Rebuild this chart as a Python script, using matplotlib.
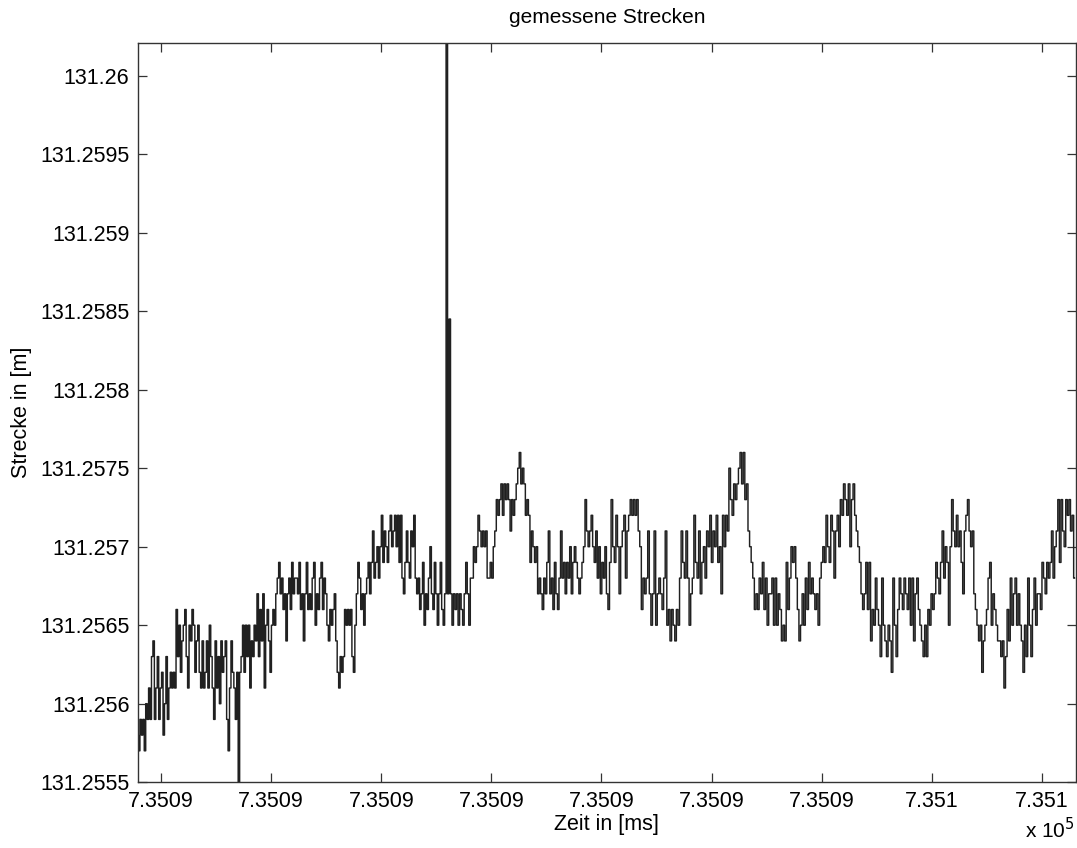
import numpy as np
import matplotlib
matplotlib.use('Agg')
from matplotlib import pyplot, ticker

BASE = 131.2555
STEP = 0.0001
seg1 = [3, 2, 4, 3, 4, 2, 5, 4, 6, 4, 8, 9, 4, 6, 8, 4, 6, 7, 3, 5, 8, 4, 6,
        7, 6, 7, 6, 11, 8, 10, 7, 9, 10, 11, 8, 6, 10, 9, 11, 10, 7, 9, 10,
        7, 6, 9, 6, 7, 9, 6, 10, 8, 6, 4, 9, 6, 8, 5, 9, 7, 8, 9, 4, 2, 6,
        9, 7, 6, 4, 7, -3, 7, 8, 10, 7, 10, 8, 10, 6, 9, 8, 10, 9, 12, 8,
        11, 9, 12, 6, 10, 11, 9, 7, 10, 11, 10, 12, 13, 14, 12, 13, 11, 12,
        9, 12, 13, 11, 14, 12, 13]
seg2 = [13, 12, 14, 11, 12, 9, 12, 14, 11, 12, 11, 13, 14, 10, 12, 11, 13,
        14, 11, 13, 12, 10, 9, 11, 10, 11, 12, 9, 7, 6, 8, 7, 8, 11, 10, 11,
        10, 11, 8, 7, 10, 12, 14, 13, 11, 12, 10, 12, 13, 14, 12, 14, 16,
        13, 14, 15, 13, 15, 17, 14, 16, 15, 14, 16, 17, 15, 16, 17, 15, 17,
        14, 17, 13, 12, 14, 16, 14, 13, 16, 15, 17, 13, 12, 13, 11, 12, 14,
        10, 12, 11, 13, 15, 12, 11, 14, 12, 10, 12, 14, 11, 10, 12, 60, 12,
        29.5, 12]
seg3 = [10, 12, 11, 12, 10, 12, 11, 10, 12, 14, 12, 10, 13, 13, 15, 14, 15,
        17, 16, 15, 16, 15, 16, 13, 13, 14, 13, 15, 16, 18, 17, 18, 19, 17,
        19, 18, 19, 18, 16, 18, 17, 18, 19, 20, 21, 19, 20, 19, 17, 18, 17,
        14, 16, 15, 14, 15, 12, 13, 12, 11, 13, 12, 14, 16, 12, 13, 11, 14,
        12, 11, 13, 16, 13, 14, 12, 14, 13, 15, 12, 14, 15, 14, 13, 12, 13,
        14, 15, 18, 16, 15, 16, 17, 15, 14, 16, 13, 15, 12, 14, 13, 15, 12]
seg4 = [11, 14, 18, 15, 14, 17, 15, 12, 15, 16, 17, 13, 16, 17, 18, 17, 18,
        17, 18, 16, 15, 11, 13, 12, 13, 16, 12, 10, 12, 16, 10, 12, 13, 12,
        11, 13, 16, 10, 11, 9, 11, 10, 9, 11, 10, 13, 16, 14, 13, 16, 13, 10,
        12, 13, 17, 14, 13, 16, 12, 14, 15, 13, 16, 15, 17, 14, 16, 15, 17,
        14, 15, 12, 17, 15, 17, 16, 20, 18, 17, 19, 18, 19, 20, 21, 19, 21,
        18, 19, 16, 15, 14, 13, 11, 12, 11, 13, 12, 14]
seg5 = [11, 13, 10, 12, 12, 13, 10, 13, 10, 12, 11, 9, 10, 9, 14, 11, 13,
        15, 14, 15, 13, 11, 9, 10, 12, 10, 13, 11, 14, 12, 13, 12, 11, 12,
        10, 13, 14, 15, 14, 17, 15, 14, 17, 16, 13, 16, 17, 15, 18, 17, 19,
        18, 17, 19, 15, 18, 19, 17, 16, 15, 14, 12, 11, 12, 14, 11, 14, 9,
        11, 10, 13, 11, 10, 8, 13, 10, 9, 8, 10, 9, 7, 13, 10, 8, 11, 13, 12,
        11, 13, 12, 11, 13, 10, 13, 9, 12, 13, 11]
seg6 = [10, 9, 8, 10, 8, 11, 10, 12, 11, 12, 14, 13, 12, 14, 16, 13, 15, 14,
        10, 15, 18, 16, 15, 17, 15, 16, 14, 12, 16, 17, 18, 16, 15, 16, 12,
        11, 10, 9, 10, 7, 9, 10, 11, 13, 14, 10, 12, 11, 10, 9, 9, 8, 9, 6,
        8, 11, 9, 13, 10, 12, 13, 10, 12, 10, 9, 7, 10, 8, 13, 10, 8, 11, 13,
        10, 12, 12, 11, 14, 13, 12, 14, 13, 14, 16, 13, 15, 16, 18, 14, 18,
        16, 15, 18, 17, 18, 16, 17, 13]
segments = [seg1, seg2, seg3, seg4, seg5, seg6]

# time span of each segment in ms
seg_edges = [735087.788, 735089.232, 735090.649, 735092.066, 735093.483,
             735094.900, 735096.311]
x_ticks = [735088, 735089, 735090, 735091, 735092, 735093, 735094, 735095,
           735096]
x_ticklabels = ['7.3509'] * 7 + ['7.351'] * 2
y_ticks = np.arange(131.2555, 131.26001, 0.0005)

t = np.concatenate([np.linspace(seg_edges[i], seg_edges[i + 1], len(s),
                                endpoint=False)
                    for i, s in enumerate(segments)])
d = BASE + STEP * np.concatenate([np.asarray(s, float) for s in segments])

pyplot.rcParams['font.family'] = ['Liberation Sans', 'DejaVu Sans']
fig = pyplot.figure(figsize=(10.77, 8.48), dpi=100)
ax = fig.add_axes([0.1279, 0.0776, 0.8712, 0.8720])
ax.plot(t, d, color='#202020', lw=1.05, drawstyle='steps-mid')

ax.set_xlim(seg_edges[0], seg_edges[-1])
ax.set_ylim(131.2555, 131.26021)
ax.xaxis.set_major_locator(ticker.FixedLocator(x_ticks))
ax.xaxis.set_major_formatter(ticker.FixedFormatter(x_ticklabels))
ax.yaxis.set_major_locator(ticker.FixedLocator(y_ticks))
ax.yaxis.set_major_formatter(ticker.FuncFormatter(lambda v, p: '%.7g' % v))
ax.tick_params(direction='in', length=6.5, width=0.9, color='#333333',
               labelsize=15.5, top=True, right=True, pad=6)
for sp in ax.spines.values():
    sp.set_color('#333333')
    sp.set_linewidth(1.0)

ax.set_title('gemessene Strecken', fontsize=15, pad=14)
ax.set_xlabel('Zeit in [ms]', fontsize=15.5, labelpad=2)
ax.set_ylabel('Strecke in [m]', fontsize=15.5, labelpad=6)
fig.text(0.998, 0.012, r'x 10$^{5}$', fontsize=15, ha='right')

pyplot.savefig('out.png', dpi=100)
